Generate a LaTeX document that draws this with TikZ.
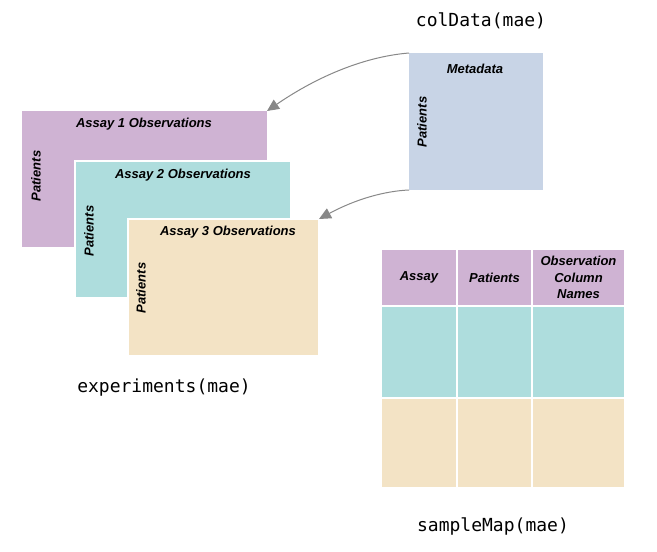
\documentclass[tikz,border=0pt]{standalone}
\usepackage{fontspec}
\setmainfont{Liberation Sans}
\newfontfamily\codefont{DejaVu Sans Mono}
\usetikzlibrary{arrows.meta}
\definecolor{lilac}{RGB}{207,179,211}
\definecolor{tealc}{RGB}{174,221,221}
\definecolor{beige}{RGB}{243,227,197}
\definecolor{bluec}{RGB}{200,212,230}
\definecolor{arrowgray}{RGB}{136,136,136}
\begin{document}
\begin{tikzpicture}[x=1pt,y=-1pt,
  box/.style={rectangle,anchor=north west,inner sep=0pt,outer sep=0pt},
  wbox/.style={box,draw=white,line width=2pt},
  lab/.style={font=\fontsize{13}{16.5}\selectfont\bfseries\itshape,inner sep=0pt},
  code/.style={font=\codefont\fontsize{18}{20}\selectfont,inner sep=0pt},
  arr/.style={draw=arrowgray,line width=1pt,-{Triangle[length=12pt,width=11pt]}}]
\useasboundingbox (0,0) rectangle (657,552);
% assay blocks
\node[box,fill=lilac,minimum width=245pt,minimum height=136pt] (a1) at (22,111) {};
\node[wbox,fill=tealc,minimum width=216pt,minimum height=137pt] (a2) at (75,161) {};
\node[wbox,fill=beige,minimum width=191pt,minimum height=137pt] (a3) at (128,219) {};
\node[box,fill=bluec,minimum width=134pt,minimum height=137pt] (meta) at (409,53) {};
% labels
\node[lab] (t1) at (144,124) {Assay 1 Observations};
\node[lab] (t2) at (183,175) {Assay 2 Observations};
\node[lab] (t3) at (228,232) {Assay 3 Observations};
\node[lab] (tm) at (475,69) {Metadata};
\node[lab,rotate=90] (p1) at (36,176) {Patients};
\node[lab,rotate=90] (p2) at (89,231) {Patients};
\node[lab,rotate=90] (p3) at (141,288) {Patients};
\node[lab,rotate=90] (pm) at (422,122) {Patients};
% arrows
\draw[arr] (meta.north west) .. controls (360,57) and (312,80) .. (a1.north east);
\draw[arr] (meta.south west) .. controls (385,191) and (356,199) .. (a3.north east);
% table
\node[wbox,fill=lilac,minimum width=76pt,minimum height=57pt] (h1) at (381,249) {};
\node[wbox,fill=lilac,minimum width=75pt,minimum height=57pt] (h2) at (457,249) {};
\node[wbox,fill=lilac,minimum width=93pt,minimum height=57pt] (h3) at (532,249) {};
\node[wbox,fill=tealc,minimum width=76pt,minimum height=92pt] (r11) at (381,306) {};
\node[wbox,fill=tealc,minimum width=75pt,minimum height=92pt] (r12) at (457,306) {};
\node[wbox,fill=tealc,minimum width=93pt,minimum height=92pt] (r13) at (532,306) {};
\node[wbox,fill=beige,minimum width=76pt,minimum height=90pt] (r21) at (381,398) {};
\node[wbox,fill=beige,minimum width=75pt,minimum height=90pt] (r22) at (457,398) {};
\node[wbox,fill=beige,minimum width=93pt,minimum height=90pt] (r23) at (532,398) {};
\node[lab] (th1) at (h1.center) {Assay};
\node[lab] (th2) at (h2.center) {Patients};
\node[lab,align=center] (th3) at (h3.center) {Observation\\Column\\Names};
% code captions
\node[code] (c1) at (481,21) {colData(mae)};
\node[code] (c2) at (164,388) {experiments(mae)};
\node[code] (c3) at (493,526) {sampleMap(mae)};
\end{tikzpicture}
\end{document}
